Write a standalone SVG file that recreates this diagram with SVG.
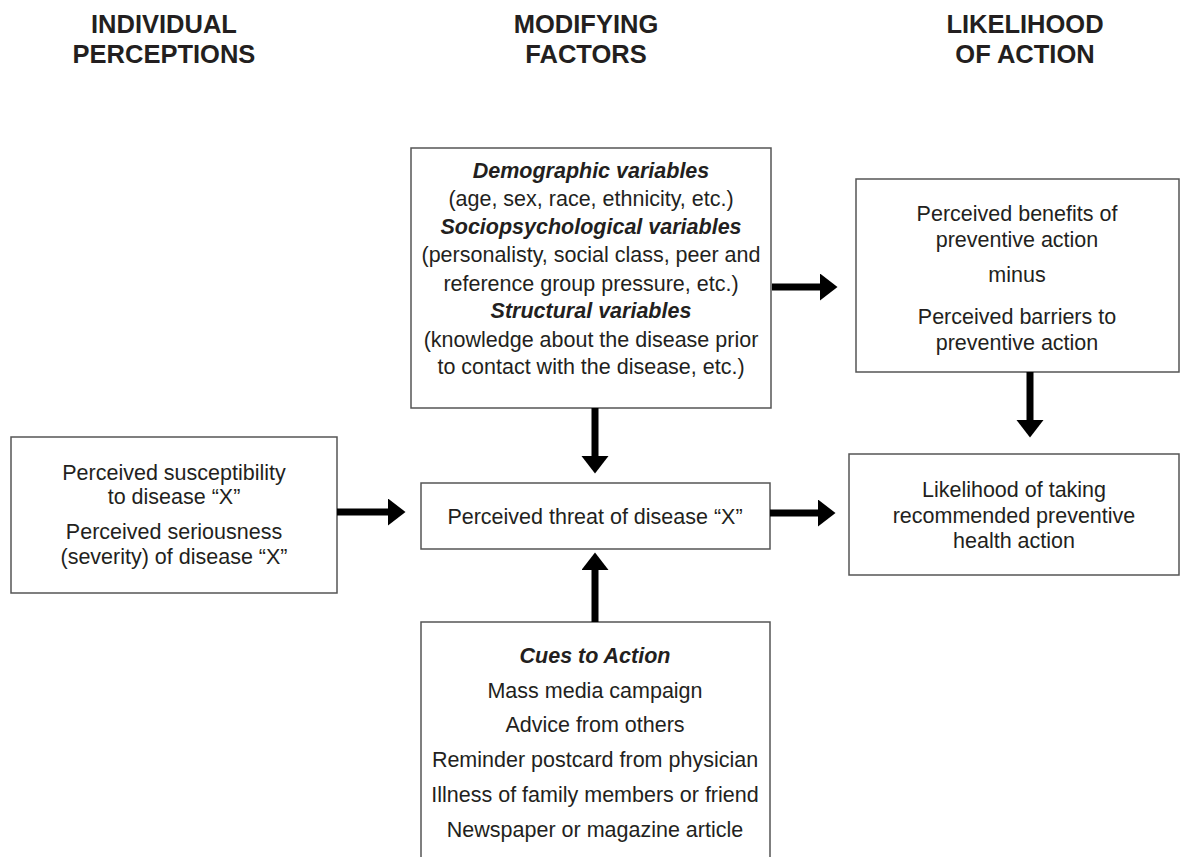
<svg xmlns="http://www.w3.org/2000/svg" width="1180" height="857" viewBox="0 0 1180 857">
<style>
.hdr{font-family:"Liberation Sans",Arial,sans-serif;font-weight:bold;font-size:25.5px;fill:#231f20;text-anchor:middle}
.t{font-family:"Liberation Sans",Arial,sans-serif;font-size:21.5px;fill:#231f20;text-anchor:middle}
.bi{font-weight:bold;font-style:italic}
.box{fill:#fff;stroke:#555;stroke-width:1.5}
.arr{stroke:#000;stroke-width:7;fill:none}
</style>
<defs>
<marker id="ah" markerUnits="userSpaceOnUse" markerWidth="18" markerHeight="28" refX="0" refY="13.5" orient="auto" viewBox="0 0 18 28">
<path d="M0,0 L17.5,13.5 L0,27 z" fill="#000"/>
</marker>
</defs>
<rect width="1180" height="857" fill="#fff"/>
<g id="headers">
<text class="hdr" x="164" y="33">INDIVIDUAL</text>
<text class="hdr" x="164" y="63">PERCEPTIONS</text>
<text class="hdr" x="586" y="33">MODIFYING</text>
<text class="hdr" x="586" y="63">FACTORS</text>
<text class="hdr" x="1025" y="33">LIKELIHOOD</text>
<text class="hdr" x="1025" y="63">OF ACTION</text>
</g>
<g id="modifying">
<rect class="box" x="411" y="148" width="360" height="260"/>
<text class="t bi" x="591" y="178">Demographic variables</text>
<text class="t" x="591" y="206">(age, sex, race, ethnicity, etc.)</text>
<text class="t bi" x="591" y="234">Sociopsychological variables</text>
<text class="t" x="591" y="262">(personalisty, social class, peer and</text>
<text class="t" x="591" y="291">reference group pressure, etc.)</text>
<text class="t bi" x="591" y="318">Structural variables</text>
<text class="t" x="591" y="347">(knowledge about the disease prior</text>
<text class="t" x="591" y="374">to contact with the disease, etc.)</text>
</g>
<g id="benefits">
<rect class="box" x="856" y="179" width="323" height="193"/>
<text class="t" x="1017" y="221">Perceived benefits of</text>
<text class="t" x="1017" y="247">preventive action</text>
<text class="t" x="1017" y="282">minus</text>
<text class="t" x="1017" y="324">Perceived barriers to</text>
<text class="t" x="1017" y="350">preventive action</text>
</g>
<g id="perceptions">
<rect class="box" x="11" y="437" width="326" height="156"/>
<text class="t" x="174" y="480">Perceived susceptibility</text>
<text class="t" x="174" y="504">to disease “X”</text>
<text class="t" x="174" y="539">Perceived seriousness</text>
<text class="t" x="174" y="564">(severity) of disease “X”</text>
</g>
<g id="threat">
<rect class="box" x="421" y="483" width="349" height="66"/>
<text class="t" x="595" y="524">Perceived threat of disease “X”</text>
</g>
<g id="likelihood">
<rect class="box" x="849" y="454" width="330" height="121"/>
<text class="t" x="1014" y="497">Likelihood of taking</text>
<text class="t" x="1014" y="523">recommended preventive</text>
<text class="t" x="1014" y="548">health action</text>
</g>
<g id="cues">
<path class="box" d="M421,860 V622 H770 V860"/>
<text class="t bi" x="595" y="663">Cues to Action</text>
<text class="t" x="595" y="698">Mass media campaign</text>
<text class="t" x="595" y="732">Advice from others</text>
<text class="t" x="595" y="767">Reminder postcard from physician</text>
<text class="t" x="595" y="802">Illness of family members or friend</text>
<text class="t" x="595" y="837">Newspaper or magazine article</text>
</g>
<g id="connectors">
<line class="arr" x1="772" y1="287" x2="820" y2="287" marker-end="url(#ah)"/>
<line class="arr" x1="1030" y1="372" x2="1030" y2="420" marker-end="url(#ah)"/>
<line class="arr" x1="595" y1="408" x2="595" y2="456" marker-end="url(#ah)"/>
<line class="arr" x1="337" y1="512" x2="388" y2="512" marker-end="url(#ah)"/>
<line class="arr" x1="770" y1="513" x2="818" y2="513" marker-end="url(#ah)"/>
<line class="arr" x1="595" y1="622" x2="595" y2="570" marker-end="url(#ah)"/>
</g>
</svg>
